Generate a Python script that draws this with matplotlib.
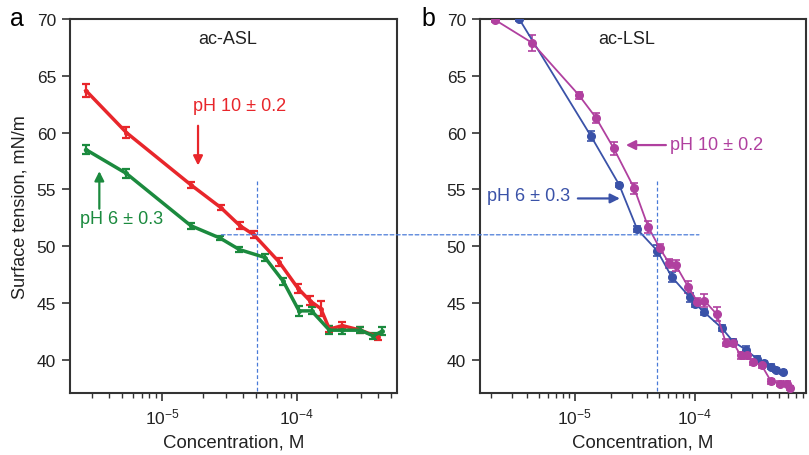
import matplotlib
matplotlib.use("Agg")
import matplotlib.pyplot as plt
from matplotlib.patches import ConnectionPatch
import numpy as np

plt.rcParams['font.family'] = ['Liberation Sans', 'DejaVu Sans']
plt.rcParams['mathtext.fontset'] = 'custom'
plt.rcParams['mathtext.rm'] = 'Liberation Sans'
plt.rcParams['mathtext.it'] = 'Liberation Sans:italic'
plt.rcParams['mathtext.bf'] = 'Liberation Sans:bold'

# ---- Panel a: ac-ASL ----
asl_ph10_x = [2.7e-6, 5.4e-6, 1.63e-5, 2.72e-5, 3.78e-5, 4.8e-5, 7.4e-5, 1.02e-4, 1.25e-4, 1.51e-4, 1.75e-4, 2.19e-4, 2.98e-4, 4.04e-4]
asl_ph10_y = [63.7, 60.0, 55.4, 53.4, 51.8, 51.0, 48.6, 46.3, 45.2, 44.5, 42.7, 43.0, 42.6, 42.0]
asl_ph10_e = [0.55, 0.5, 0.25, 0.25, 0.3, 0.3, 0.35, 0.4, 0.4, 0.65, 0.3, 0.3, 0.25, 0.3]

asl_ph6_x = [2.7e-6, 5.4e-6, 1.63e-5, 2.7e-5, 3.74e-5, 5.8e-5, 7.94e-5, 1.04e-4, 1.29e-4, 1.75e-4, 2.19e-4, 2.98e-4, 3.7e-4, 4.3e-4]
asl_ph6_y = [58.5, 56.4, 51.8, 50.7, 49.7, 49.0, 46.9, 44.3, 44.3, 42.6, 42.6, 42.6, 42.1, 42.5]
asl_ph6_e = [0.4, 0.4, 0.25, 0.2, 0.25, 0.3, 0.3, 0.45, 0.3, 0.35, 0.35, 0.25, 0.25, 0.35]

# ---- Panel b: ac-LSL ----
lsl_ph10_x = [2.18e-6, 4.41e-6, 1.08e-5, 1.5e-5, 2.11e-5, 3.12e-5, 4.08e-5, 5.1e-5, 6.1e-5, 6.95e-5, 8.8e-5, 1.05e-4, 1.2e-4, 1.52e-4,
              1.81e-4, 2.08e-4, 2.4e-4, 2.69e-4, 3.06e-4, 3.6e-4, 4.3e-4, 5.1e-4, 5.8e-4, 6.2e-4]
lsl_ph10_y = [69.9, 67.9, 63.3, 61.3, 58.6, 55.1, 51.7, 49.8, 48.5, 48.3, 46.4, 45.1, 45.2, 44.0,
              41.5, 41.5, 40.4, 40.4, 39.8, 39.5, 38.1, 37.9, 37.9, 37.5]
lsl_ph10_e = [0.2, 0.7, 0.3, 0.45, 0.55, 0.5, 0.5, 0.4, 0.4, 0.45, 0.5, 0.3, 0.6, 0.6,
              0.3, 0.3, 0.3, 0.3, 0.25, 0.25, 0.2, 0.2, 0.2, 0.2]

lsl_ph6_x = [3.44e-6, 1.36e-5, 2.34e-5, 3.3e-5, 4.85e-5, 6.4e-5, 9.08e-5, 1.01e-4, 1.19e-4, 1.67e-4, 2.08e-4, 2.64e-4,
             3.27e-4, 3.76e-4, 4.3e-4, 4.7e-4, 5.45e-4]
lsl_ph6_y = [70.0, 59.7, 55.4, 51.5, 49.6, 47.3, 45.5, 44.9, 44.2, 42.8, 41.6, 40.9,
             40.1, 39.7, 39.4, 39.1, 38.9]
lsl_ph6_e = [0.2, 0.45, 0.2, 0.25, 0.5, 0.45, 0.4, 0.3, 0.3, 0.3, 0.25, 0.3,
             0.2, 0.2, 0.2, 0.2, 0.2]

red = '#e8262b'
green = '#1b8a3e'
magenta = '#b0409f'
blue = '#3a52a8'
guide = '#4a7bd8'

W, H = 809, 456
fig = plt.figure(figsize=(W / 100, H / 100), dpi=100)

def box(l, r, t, b):
    return [l / W, 1 - b / H, (r - l) / W, (b - t) / H]

ax1 = fig.add_axes(box(70, 397, 20, 394))
ax2 = fig.add_axes(box(480, 806, 20, 394))

ax1.errorbar(asl_ph10_x, asl_ph10_y, yerr=asl_ph10_e, color=red, lw=2.5,
             elinewidth=1.6, capsize=3, capthick=1.6, marker='o', ms=2.5, zorder=3)
ax1.errorbar(asl_ph6_x, asl_ph6_y, yerr=asl_ph6_e, color=green, lw=2.5,
             elinewidth=1.6, capsize=3, capthick=1.6, marker='o', ms=2.5, zorder=3)

ax2.errorbar(lsl_ph6_x, lsl_ph6_y, yerr=lsl_ph6_e, color=blue, lw=1.3,
             elinewidth=1.2, capsize=3, capthick=1.2, marker='o', ms=5.5, zorder=3)
ax2.errorbar(lsl_ph10_x, lsl_ph10_y, yerr=lsl_ph10_e, color=magenta, lw=1.3,
             elinewidth=1.2, capsize=3, capthick=1.2, marker='o', ms=5.5, zorder=3)

for ax, xl in ((ax1, (10 ** -5.687, 10 ** -3.254)), (ax2, (10 ** -5.79, 10 ** -3.075))):
    ax.set_xscale('log')
    ax.set_xlim(*xl)
    ax.set_ylim(37.07, 70)
    ax.set_yticks([40, 45, 50, 55, 60, 65, 70])
    ax.set_xticks([1e-5, 1e-4])
    ax.tick_params(axis='both', which='major', labelsize=12.5, direction='out', length=6, width=1.2,
                   colors='#333333', labelcolor='#222222', pad=4)
    ax.tick_params(axis='x', which='minor', direction='out', length=3.5, width=1.0, colors='#333333')
    for s in ax.spines.values():
        s.set_linewidth(1.5)
        s.set_color('#333333')
    ax.set_xlabel('Concentration, M', fontsize=13.4, color='#222222', labelpad=5)

ax1.set_ylabel('Surface tension, mN/m', fontsize=13.1, color='#222222', labelpad=6)

ax1.text(0.483, 0.948, 'ac-ASL', transform=ax1.transAxes, ha='center', va='center', fontsize=13, color='#222222')
ax2.text(0.451, 0.948, 'ac-LSL', transform=ax2.transAxes, ha='center', va='center', fontsize=13, color='#222222')

fig.text(17 / W, 1 - 19 / H, 'a', fontsize=18, ha='center', va='center')
fig.text(428 / W, 1 - 19 / H, 'b', fontsize=18, ha='center', va='center')

# guide lines
ax1.plot([5.07e-5, 5.07e-5], [55.7, 37.07], lw=0.9, color=guide, dashes=(3, 2))
ax2.plot([4.85e-5, 4.85e-5], [55.7, 37.07], lw=0.9, color=guide, dashes=(3, 2))
con = ConnectionPatch(xyA=(2.75e-5, 51.0), coordsA=ax1.transData,
                      xyB=(1.08e-4, 51.0), coordsB=ax2.transData,
                      color=guide, lw=0.9, ls=(0, (3, 2)))
fig.add_artist(con)

def lx_a(px):
    return 10 ** (-5 + (px - 162.3) / 134.4)

def lx_b(px):
    return 10 ** (-5 + (px - 575) / 120)

# annotations panel a
ax1.text(lx_a(240), 62.35, 'pH 10 ± 0.2', color=red, fontsize=13, ha='center', va='center')
ax1.annotate('', xy=(lx_a(198), 57.1), xytext=(lx_a(198), 60.6),
             arrowprops=dict(arrowstyle='-|>', color=red, lw=1.6, mutation_scale=14, shrinkA=0, shrinkB=0))
ax1.text(lx_a(122), 52.45, 'pH 6 ± 0.3', color=green, fontsize=13, ha='center', va='center')
ax1.annotate('', xy=(lx_a(99.3), 56.6), xytext=(lx_a(99.3), 53.3),
             arrowprops=dict(arrowstyle='-|>', color=green, lw=1.6, mutation_scale=14, shrinkA=0, shrinkB=0))

# annotations panel b
ax2.text(lx_b(670), 58.95, 'pH 10 ± 0.2', color=magenta, fontsize=13, ha='left', va='center')
ax2.annotate('', xy=(lx_b(626), 58.9), xytext=(lx_b(666), 58.9),
             arrowprops=dict(arrowstyle='-|>', color=magenta, lw=1.6, mutation_scale=14, shrinkA=0, shrinkB=0))
ax2.text(lx_b(487), 54.5, 'pH 6 ± 0.3', color=blue, fontsize=13, ha='left', va='center')
ax2.annotate('', xy=(lx_b(620), 54.2), xytext=(lx_b(578), 54.2),
             arrowprops=dict(arrowstyle='-|>', color=blue, lw=1.6, mutation_scale=14, shrinkA=0, shrinkB=0))

fig.savefig('out.png', dpi=100)
